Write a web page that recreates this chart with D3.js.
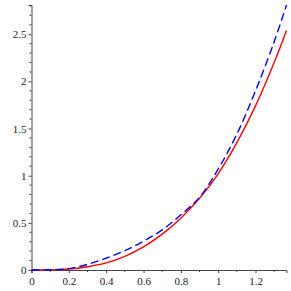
<!DOCTYPE html>
<html>
<head>
<meta charset="utf-8">
<script src="https://cdn.jsdelivr.net/npm/d3@7"></script>
<style>
  body { margin: 0; background: #fff; }
</style>
</head>
<body>
<svg id="chart"></svg>
<script>
// chart data
const xs = [0, 0.1, 0.2, 0.3, 0.4, 0.5, 0.6, 0.7, 0.8, 0.9, 1.0, 1.1, 1.2, 1.3, 1.366];
const redVals = [0, 0.001, 0.01, 0.035, 0.075, 0.145, 0.245, 0.38, 0.55, 0.76, 1.02, 1.35, 1.74, 2.2, 2.54];
const blueVals = [0, 0.002, 0.015, 0.06, 0.125, 0.205, 0.305, 0.425, 0.585, 0.77, 1.07, 1.44, 1.9, 2.42, 2.81];
const xTicks = [0, 0.2, 0.4, 0.6, 0.8, 1, 1.2];
const yTicks = [0, 0.5, 1, 1.5, 2, 2.5];
const xMinor = [0.1, 0.3, 0.5, 0.7, 0.9, 1.1, 1.3];
const yMinor = [0.1, 0.2, 0.3, 0.4, 0.6, 0.7, 0.8, 0.9, 1.1, 1.2, 1.3, 1.4, 1.6, 1.7, 1.8, 1.9, 2.1, 2.2, 2.3, 2.4, 2.6, 2.7, 2.8];

const width = 291;
const height = 291;
const serif = "Liberation Serif";

const svg = d3.select("#chart")
    .attr("width", width)
    .attr("height", height);

const x = d3.scaleLinear().domain([0, 1.366]).range([31.5, 286.5]);
const y = d3.scaleLinear().domain([0, 2.81]).range([270, 5]);

const axisColor = "#444";

// x axis
const xAxis = svg.append("g").attr("transform", `translate(0,${y(0)})`);
xAxis.call(d3.axisBottom(x).tickValues(xTicks).tickSize(3).tickPadding(4)
    .tickFormat(d => d3.format("~g")(d)));
xAxis.append("g").selectAll("line").data(xMinor).join("line")
    .attr("x1", d => x(d)).attr("x2", d => x(d))
    .attr("y1", 0).attr("y2", 2)
    .attr("stroke", axisColor);

// y axis
const yAxis = svg.append("g").attr("transform", `translate(${x(0)},0)`);
yAxis.call(d3.axisLeft(y).tickValues(yTicks.filter(d => d > 0)).tickSize(3).tickPadding(2)
    .tickFormat(d => d3.format("~g")(d)));
yAxis.append("g").selectAll("line").data(yMinor).join("line")
    .attr("x1", -2).attr("x2", 0)
    .attr("y1", d => y(d)).attr("y2", d => y(d))
    .attr("stroke", axisColor);

svg.selectAll(".domain").attr("stroke", axisColor);
svg.selectAll(".tick line").attr("stroke", axisColor);

// "0" on the y axis
svg.append("text")
    .attr("class", "ylab0")
    .attr("x", x(0) - 5).attr("y", y(0)).attr("dy", "0.32em")
    .attr("text-anchor", "end").text("0");

// serif labels like the original
xAxis.attr("font-family", serif).attr("font-size", 11);
yAxis.attr("font-family", serif).attr("font-size", 11);
svg.selectAll("text")
    .attr("font-family", serif)
    .attr("font-size", 11)
    .attr("fill", "#222");

// curves
const line = d3.line()
    .x((d, i) => x(xs[i]))
    .y(d => y(d))
    .curve(d3.curveCatmullRom);

svg.append("path")
    .attr("d", line(redVals))
    .attr("fill", "none")
    .attr("stroke", "#ff0000")
    .attr("stroke-width", 1.4);

svg.append("path")
    .attr("d", line(blueVals))
    .attr("fill", "none")
    .attr("stroke", "#0000ff")
    .attr("stroke-width", 1.4)
    .attr("stroke-dasharray", "8,4");
</script>
</body>
</html>
